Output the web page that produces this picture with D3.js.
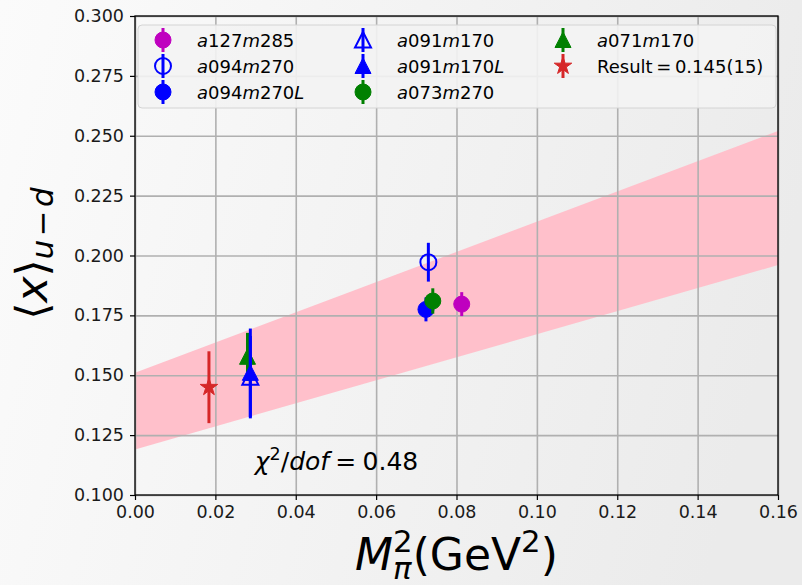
<!DOCTYPE html>
<html>
<head>
<meta charset="utf-8">
<script src="https://cdn.jsdelivr.net/npm/d3@7"></script>
<style>
  body { margin: 0; }
  svg { display: block; font-family: "DejaVu Sans", sans-serif; }
</style>
</head>
<body>
<div id="chart"></div>
<script>
// ensemble data
var names   = ["a127m285", "a094m270", "a094m270L", "a091m170", "a091m170L", "a073m270", "a071m170", "Result"];
var mpi2    = [0.0813, 0.0730, 0.0724, 0.0287, 0.0287, 0.0741, 0.0280, 0.0184];
var xval    = [0.1797, 0.1972, 0.1775, 0.1492, 0.1510, 0.1810, 0.1577, 0.145];
var xerr    = [0.0050, 0.0081, 0.0050, 0.0172, 0.0185, 0.0053, 0.0100, 0.015];
var colors  = ["#bf00bf", "#0000ff", "#0000ff", "#0000ff", "#0000ff", "#008000", "#008000", "#d62728"];
var shapes  = ["circle", "circle", "circle", "triangle", "triangle", "circle", "triangle", "star"];
var filled  = [true, false, true, false, true, true, true, true];
// stacking order of the points (green ones sit under the blue triangles)
var drawOrder = [0, 1, 2, 5, 6, 3, 4, 7];

// fit band (lower / upper edge at both ends of the x range)
var bandX    = [0.0, 0.16];
var bandLow  = [0.119, 0.196];
var bandHigh = [0.151, 0.252];

var xTicks = [0.00, 0.02, 0.04, 0.06, 0.08, 0.10, 0.12, 0.14, 0.16];
var yTicks = [0.100, 0.125, 0.150, 0.175, 0.200, 0.225, 0.250, 0.275, 0.300];

var svgWidth = 802;
var svgHeight = 585;
var margin = { top: 16, right: 24, bottom: 90, left: 135 };
var width = svgWidth - margin.left - margin.right;
var height = svgHeight - margin.top - margin.bottom;

var svg = d3.select("#chart")
  .append("svg")
  .attr("width", svgWidth)
  .attr("height", svgHeight);

// slide-like background
var grad = svg.append("defs").append("linearGradient")
  .attr("id", "bg")
  .attr("gradientUnits", "userSpaceOnUse")
  .attr("x1", 0).attr("y1", 0).attr("x2", svgWidth).attr("y2", 200);
grad.append("stop").attr("offset", "0%").attr("stop-color", "#fbfbfb");
grad.append("stop").attr("offset", "100%").attr("stop-color", "#ebebeb");

svg.append("rect")
  .attr("width", svgWidth).attr("height", svgHeight)
  .attr("fill", "url(#bg)");

var chartGroup = svg.append("g")
  .attr("transform", `translate(${margin.left}, ${margin.top})`);

var x = d3.scaleLinear().domain([0, 0.16]).range([0, width]);
var y = d3.scaleLinear().domain([0.1, 0.3]).range([height, 0]);

// band
var band = d3.area()
  .x(function (d, i) { return x(bandX[i]); })
  .y0(function (d, i) { return y(bandLow[i]); })
  .y1(function (d, i) { return y(bandHigh[i]); });

chartGroup.append("path")
  .datum(bandX)
  .attr("d", band)
  .attr("fill", "#ffc0cb");

// grid
chartGroup.append("g")
  .attr("class", "grid")
  .attr("transform", `translate(0, ${height})`)
  .call(d3.axisBottom(x).tickValues(xTicks).tickSize(-height).tickFormat(""));
chartGroup.append("g")
  .attr("class", "grid")
  .call(d3.axisLeft(y).tickValues(yTicks).tickSize(-width).tickFormat(""));
chartGroup.selectAll(".grid .domain").remove();
chartGroup.selectAll(".grid line")
  .attr("stroke", "#b0b0b0")
  .attr("stroke-width", 1.6);

// axes
var bottomAxis = d3.axisBottom(x).tickValues(xTicks).tickSize(5).tickPadding(6)
  .tickFormat(d3.format(".2f"));
var leftAxis = d3.axisLeft(y).tickValues(yTicks).tickSize(5).tickPadding(6)
  .tickFormat(d3.format(".3f"));

var gx = chartGroup.append("g")
  .attr("transform", `translate(0, ${height})`)
  .call(bottomAxis);
var gy = chartGroup.append("g")
  .call(leftAxis);

[gx, gy].forEach(function (g) {
  g.select(".domain").remove();
  g.selectAll("line").attr("stroke", "#000").attr("stroke-width", 1.2);
  g.selectAll("text")
    .attr("font-family", "DejaVu Sans")
    .attr("font-size", "17.5px")
    .attr("fill", "#1a1a1a");
});

// marker shapes
function markerPath(shape) {
  if (shape === "circle") return d3.symbol().type(d3.symbolCircle).size(Math.PI * 64)();
  if (shape === "star") return d3.symbol().type(d3.symbolStar).size(95)();
  // matplotlib style '^'
  return "M0,-8L8,7.5L-8,7.5Z";
}

function drawMarker(g, i, cx, cy, errTop, errBot) {
  g.append("line")
    .attr("x1", cx).attr("x2", cx)
    .attr("y1", errTop).attr("y2", errBot)
    .attr("stroke", colors[i])
    .attr("stroke-width", 3);
  g.append("path")
    .attr("d", markerPath(shapes[i]))
    .attr("transform", `translate(${cx}, ${cy})`)
    .attr("fill", filled[i] ? colors[i] : "none")
    .attr("stroke", colors[i])
    .attr("stroke-width", filled[i] ? 1 : 2);
}

// data points
var pointsGroup = chartGroup.append("g");
drawOrder.forEach(function (i) {
  drawMarker(pointsGroup, i, x(mpi2[i]), y(xval[i]),
    y(xval[i] + xerr[i]), y(xval[i] - xerr[i]));
});

// frame
chartGroup.append("rect")
  .attr("width", width).attr("height", height)
  .attr("fill", "none")
  .attr("stroke", "#000")
  .attr("stroke-width", 1.3);

// little mathtext-ish helper: pieces laid out left to right
function mathText(g, parts, size) {
  var pos = 0, base = 0, baseW = 0;
  parts.forEach(function (p) {
    pos += (p.gap || 0) * size;
    var t = g.append("text")
      .attr("font-size", size * (p.s || 1))
      .attr("font-style", p.i ? "italic" : null)
      .attr("y", (p.dy || 0) * size)
      .attr("fill", "#000")
      .text(p.t);
    var w = t.node().getComputedTextLength();
    if (p.stack) {
      t.attr("x", base);
      pos = base + Math.max(baseW, w);
    } else {
      t.attr("x", pos);
      base = pos; baseW = w;
      pos += w;
    }
    pos += (p.after || 0) * size;
  });
  return pos;
}

function labelParts(str) {
  if (str === "Result") {
    return [{ t: "Result" }, { t: "=", gap: 0.2, after: 0.2 }, { t: "0.145(15)" }];
  }
  return str.match(/[A-Za-z]+|[^A-Za-z]+/g).map(function (s) {
    return { t: s, i: /[A-Za-z]/.test(s) };
  });
}

// chi^2 text
var chiG = chartGroup.append("g")
  .attr("transform", `translate(${x(0.0298)}, ${y(0.1105)})`);
mathText(chiG, [
  { t: "χ", i: true },
  { t: "2", s: 0.7, dy: -0.4 },
  { t: "/" },
  { t: "dof", i: true },
  { t: "=", gap: 0.25, after: 0.25 },
  { t: "0.48" }
], 25);

// x label
var xl = svg.append("g");
var xw = mathText(xl, [
  { t: "M", i: true },
  { t: "π", i: true, s: 0.7, dy: 0.2 },
  { t: "2", s: 0.7, dy: -0.4, stack: true },
  { t: "(GeV" },
  { t: "2", s: 0.7, dy: -0.4 },
  { t: ")" }
], 44);
xl.attr("transform", `translate(${margin.left + width / 2 - xw / 2}, 570)`);

// y label
var yl = svg.append("g");
var yInner = yl.append("g");
var yw = mathText(yInner, [
  { t: "⟨" },
  { t: "x", i: true },
  { t: "⟩" },
  { t: "u", i: true, s: 0.7, dy: 0.13 },
  { t: "−", s: 0.7, dy: 0.13, gap: 0.08, after: 0.08 },
  { t: "d", i: true, s: 0.7, dy: 0.13 }
], 44);
yInner.attr("transform", `translate(${-yw / 2}, 0)`);
yl.attr("transform", `translate(47, ${margin.top + height / 2 - 2}) rotate(-90)`);

// legend
var legend = chartGroup.append("g")
  .attr("transform", "translate(3, 9)");
legend.append("rect")
  .attr("width", 638).attr("height", 83)
  .attr("rx", 4)
  .attr("fill", "#f3f3f3")
  .attr("fill-opacity", 0.9)
  .attr("stroke", "#d4d4d4");

names.forEach(function (n, i) {
  var col = Math.floor(i / 3), row = i % 3;
  var mx = 25 + col * 200, my = 15 + row * 26;
  drawMarker(legend, i, mx, my, my - 12, my + 12);
  var lg = legend.append("g")
    .attr("transform", `translate(${mx + 34}, ${my + 6.5})`);
  mathText(lg, labelParts(n), 18);
});
</script>
</body>
</html>
